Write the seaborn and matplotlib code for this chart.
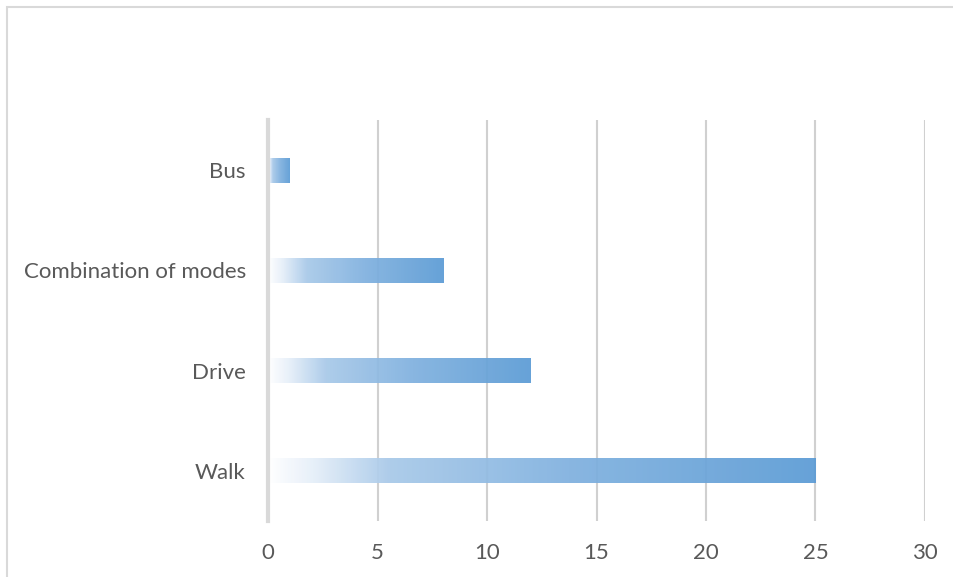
import numpy as np
import pandas as pd
import matplotlib
matplotlib.use("Agg")
import matplotlib.pyplot as plt
from matplotlib.colors import LinearSegmentedColormap
from matplotlib.patches import Rectangle
import seaborn as sns

# podaci
modes = ["Bus", "Combination of modes", "Drive", "Walk"]
counts = [1, 8, 12, 25]
x_ticks = [0, 5, 10, 15, 20, 25, 30]

df = pd.DataFrame({"mode": modes, "count": counts})

sns.set_style("white")
plt.rcParams["font.family"] = ["Lato", "DejaVu Sans"]

fig = plt.figure(figsize=(9.54, 5.77), dpi=100)
ax = fig.add_axes([268 / 954, 1 - 521 / 577, (925 - 268) / 954, (521 - 120) / 577])

ax.set_axisbelow(True)
ax.xaxis.grid(True, color="#D0D0D0", linewidth=1.5)

sns.barplot(data=df, x="count", y="mode", order=modes, color="#5B9BD5",
            width=0.25, ax=ax)

# gradijent unutar svakog stupca (bijelo -> plavo)
grad = LinearSegmentedColormap.from_list(
    "grad", [(0.0, "#FFFFFF"), (0.08, "#E6EFF9"), (0.22, "#A8C9E9"),
             (0.55, "#80B1DF"), (1.0, "#5B9BD5")])
ramp = np.linspace(0, 1, 256).reshape(1, -1)
for p in ax.patches:
    x0, y0 = p.get_x(), p.get_y()
    w, h = p.get_width(), p.get_height()
    p.set_facecolor("none")
    p.set_edgecolor("none")
    im = ax.imshow(ramp, cmap=grad, aspect="auto", alpha=0.93,
                   extent=[x0, x0 + w, y0 + h, y0], zorder=2, interpolation="bilinear")
    im.set_clip_path(p)

ax.set_xlim(0, 30)
ax.set_ylim(3.5, -0.5)
ax.set_xticks(x_ticks)
ax.set_xlabel("")
ax.set_ylabel("")

for s in ["top", "right", "bottom"]:
    ax.spines[s].set_visible(False)
ax.spines["left"].set_color("#D9D9D9")
ax.spines["left"].set_linewidth(3)
ax.spines["left"].set_zorder(3)

ax.tick_params(axis="both", length=0, labelsize=16, labelcolor="#595959")
ax.tick_params(axis="x", pad=16)
ax.tick_params(axis="y", pad=16)

# okvir grafa
fig.patches.append(Rectangle((7 / 954, -0.1), 1.2, 1 - 7 / 577 + 0.1,
                             transform=fig.transFigure, fill=False,
                             edgecolor="#D9D9D9", linewidth=1.5))

fig.savefig("out.png", dpi=100)
